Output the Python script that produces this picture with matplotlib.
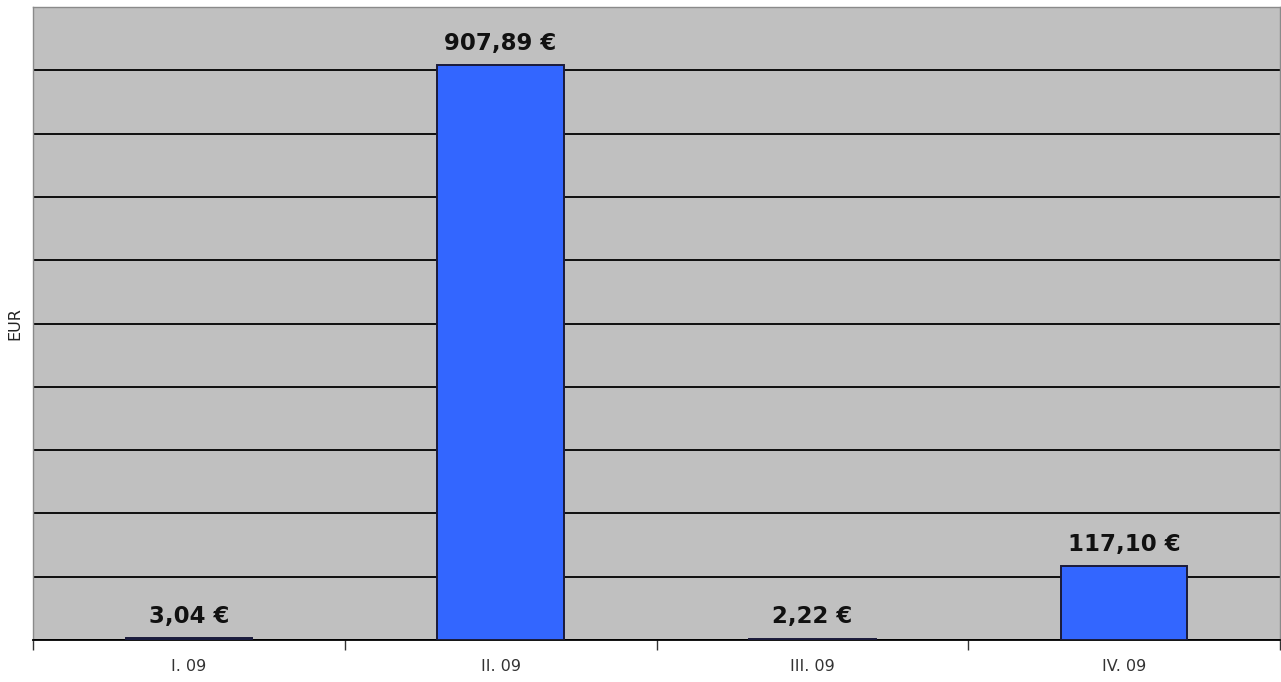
import matplotlib
matplotlib.use("Agg")
import matplotlib.pyplot as plt
import numpy as np

categories = ["I. 09", "II. 09", "III. 09", "IV. 09"]
values = [3.04, 907.89, 2.22, 117.10]
labels = ["3,04 €", "907,89 €", "2,22 €", "117,10 €"]

fig = plt.figure(figsize=(12.81, 6.82), dpi=100)
ax = fig.add_axes([33/1281, 42/682, (1280-33)/1281, (640-7)/682])
ax.set_facecolor("#C0C0C0")

x = np.arange(len(categories))
ax.set_xlim(-0.5, len(categories) - 0.5)
ax.set_ylim(0, 1000)
ax.set_yticks(np.arange(0, 1001, 100))
ax.yaxis.grid(True, color="black", linewidth=1.3)
ax.set_axisbelow(True)
ax.tick_params(axis="y", left=False, labelleft=False)

ax.bar(x, values, width=0.405, color="#3366FF", edgecolor="#1a1a3a", linewidth=1.4, zorder=3)
for xi, v, lab in zip(x, values, labels):
    ax.text(xi, v + 16, lab, ha="center", va="bottom", fontsize=16.5,
            fontweight="bold", color="#111111", family="DejaVu Sans", zorder=4)

ax.set_xticks(x)
ax.set_xticklabels(categories, fontsize=11.5, color="#333333")
ax.tick_params(axis="x", which="major", length=0, pad=14)
ax.set_xticks(np.arange(-0.5, len(categories), 1.0), minor=True)
ax.tick_params(axis="x", which="minor", length=7, width=1, color="#333333", direction="out")

for s in ["top", "left", "right"]:
    ax.spines[s].set_color("#8a8a8a")
    ax.spines[s].set_linewidth(1)
ax.spines["bottom"].set_color("black")
ax.spines["bottom"].set_linewidth(1.3)

ax.set_ylabel("EUR", fontsize=11.5, color="#222222", labelpad=8)

fig.savefig("out.png", dpi=100, facecolor="white")
